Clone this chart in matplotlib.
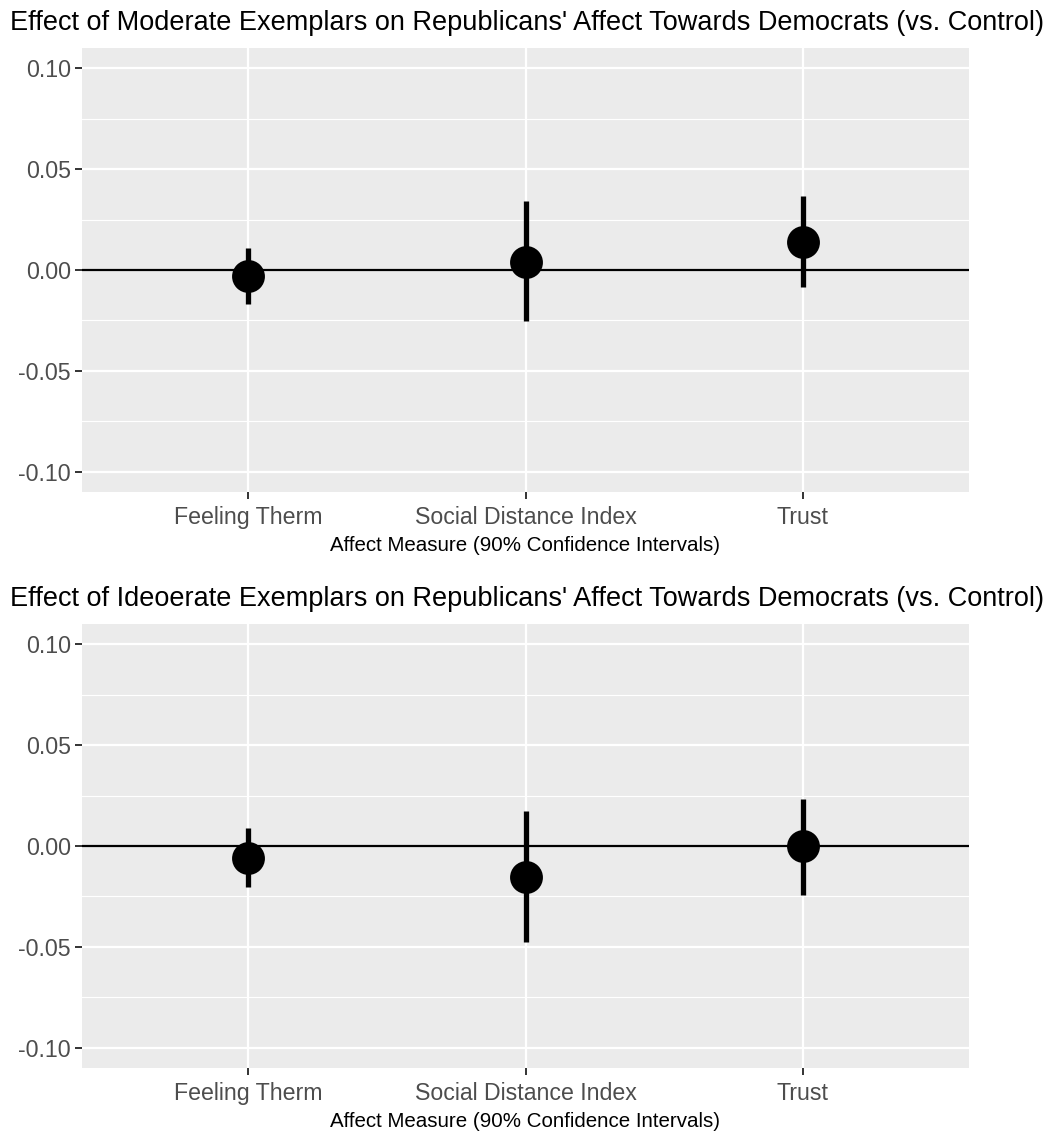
import matplotlib
matplotlib.use("Agg")
import matplotlib.pyplot as plt
from matplotlib.ticker import FixedLocator

plt.rcParams['font.family'] = ['Liberation Sans', 'DejaVu Sans']

categories = ["Feeling Therm", "Social Distance Index", "Trust"]

moderate_est = [-0.003, 0.0041, 0.0141]
moderate_lo = [-0.0167, -0.0254, -0.0085]
moderate_hi = [0.011, 0.034, 0.0367]

ideo_est = [-0.0058, -0.0153, 0.0]
ideo_lo = [-0.0204, -0.0478, -0.0242]
ideo_hi = [0.0088, 0.0173, 0.0235]

titles = [
    "Effect of Moderate Exemplars on Republicans' Affect Towards Democrats (vs. Control)",
    "Effect of Ideoerate Exemplars on Republicans' Affect Towards Democrats (vs. Control)",
]
xlabel = "Affect Measure (90% Confidence Intervals)"
yticks = [-0.10, -0.05, 0.00, 0.05, 0.10]
ytick_labels = ["-0.10", "-0.05", "0.00", "0.05", "0.10"]

W, H = 1048, 1133
fig = plt.figure(figsize=(W / 100, H / 100), dpi=100)

panels = [
    (48, 492, moderate_est, moderate_lo, moderate_hi, titles[0]),
    (624, 1068, ideo_est, ideo_lo, ideo_hi, titles[1]),
]
left_px, right_px = 82, 969

for top, bottom, est, lo, hi, title in panels:
    ax = fig.add_axes([left_px / W, 1 - bottom / H, (right_px - left_px) / W, (bottom - top) / H])
    ax.set_facecolor("#EBEBEB")
    for s in ax.spines.values():
        s.set_visible(False)
    x = list(range(1, len(categories) + 1))
    ax.set_xlim(0.4, 3.6)
    ax.set_ylim(-0.11, 0.11)
    ax.yaxis.set_major_locator(FixedLocator(yticks))
    ax.yaxis.set_minor_locator(FixedLocator([-0.075, -0.025, 0.025, 0.075]))
    ax.set_yticklabels(ytick_labels)
    ax.set_xticks(x)
    ax.set_xticklabels(categories)
    ax.grid(which="major", color="white", linewidth=1.6)
    ax.grid(which="minor", axis="y", color="white", linewidth=0.8)
    ax.set_axisbelow(True)
    ax.tick_params(axis="both", which="major", length=5, width=1.4, color="#333333",
                   labelsize=16.7, labelcolor="#4D4D4D", pad=3)
    ax.tick_params(axis="x", which="major", pad=5)
    ax.tick_params(axis="y", which="minor", length=0)
    ax.axhline(0, color="black", linewidth=1.6, zorder=2)
    ax.vlines(x, lo, hi, color="black", linewidth=3.8, zorder=3)
    ax.scatter(x, est, s=560, color="black", zorder=4, linewidths=0)
    ax.set_xlabel(xlabel, fontsize=14.8, color="black", labelpad=5)
    ax.set_title(title, fontsize=19.5, loc="left", x=-0.081, pad=13, color="black")

fig.savefig("out.png", dpi=100)
